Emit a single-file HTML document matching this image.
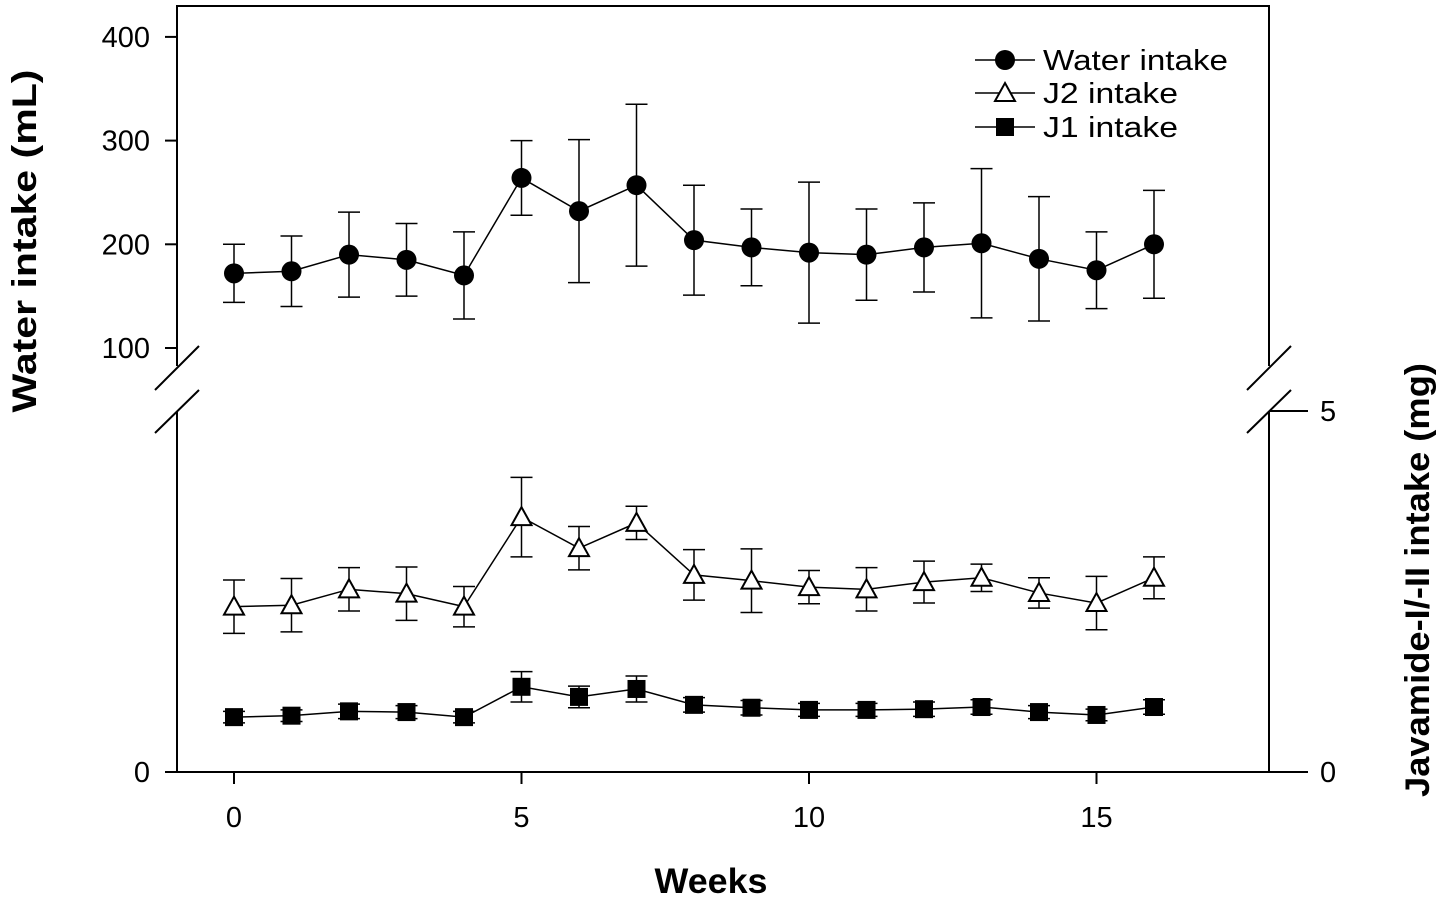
<!DOCTYPE html>
<html><head><meta charset="utf-8"><style>
body{margin:0;background:#fff}
svg{display:block;font-family:"Liberation Sans",Arial,sans-serif}
</style></head><body>
<svg id="c" width="1441" height="900" viewBox="0 0 1441 900">
<g id="g"></g>
</svg>
<script>
const weeks=[0,1,2,3,4,5,6,7,8,9,10,11,12,13,14,15,16];
const water=[172,174,190,185,170,264,232,257,204,197,192,190,197,201,186,175,200];
const waterErr=[28,34,41,35,42,36,69,78,53,37,68,44,43,72,60,37,52];
const j2=[2.29,2.31,2.53,2.47,2.29,3.53,3.10,3.45,2.73,2.65,2.56,2.53,2.63,2.69,2.48,2.34,2.69];
const j2Err=[0.37,0.37,0.30,0.37,0.28,0.55,0.30,0.23,0.35,0.44,0.23,0.30,0.29,0.19,0.21,0.37,0.29];
const j1=[0.76,0.78,0.84,0.83,0.76,1.18,1.04,1.15,0.93,0.89,0.86,0.86,0.87,0.90,0.83,0.79,0.90];
const j1Err=[0.08,0.08,0.10,0.09,0.08,0.21,0.15,0.18,0.10,0.10,0.09,0.09,0.10,0.10,0.09,0.08,0.10];
const xTicks=[0,5,10,15];
const yTopTicks=[100,200,300,400];
const yRightTicks=[0,5];

const NS="http://www.w3.org/2000/svg";
const g=document.getElementById('g');
const X=v=>234+v*57.5;
const YW=v=>348-(v-100)*1.037;
const YJ=v=>772-v*72.2;
function el(t,a,p){const e=document.createElementNS(NS,t);for(const k in a)e.setAttribute(k,a[k]);(p||g).appendChild(e);return e;}
const S={stroke:'#000','stroke-width':2,fill:'none'};
let e;
e=el('line',{x1:177,y1:6,x2:177,y2:366,...S});
e=el('line',{x1:177,y1:411,x2:177,y2:772,...S});
e=el('line',{x1:1269,y1:6,x2:1269,y2:366,...S});
e=el('line',{x1:1269,y1:411,x2:1269,y2:772,...S});
e=el('line',{x1:177,y1:772,x2:1269,y2:772,...S});
e=el('line',{x1:176,y1:6,x2:1270,y2:6,...S});
[[155,390,199,346],[155,433,199,390],[1247,390,1291,346],[1247,433,1291,390]].forEach(b=>{
 e=el('line',{x1:b[0],y1:b[1],x2:b[2],y2:b[3],...S});});
xTicks.forEach(t=>{
 e=el('line',{x1:X(t),y1:772,x2:X(t),y2:784,...S});
 e=el('text',{x:X(t),y:827,'font-size':29,'text-anchor':'middle'});e.textContent=t;});
yTopTicks.forEach(t=>{
 e=el('line',{x1:165,y1:YW(t),x2:177,y2:YW(t),...S});
 e=el('text',{x:150,y:YW(t)+10,'font-size':29,'text-anchor':'end'});e.textContent=t;});
e=el('line',{x1:165,y1:772,x2:177,y2:772,...S});
e=el('text',{x:150,y:782,'font-size':29,'text-anchor':'end'});e.textContent='0';
yRightTicks.forEach(t=>{
 e=el('line',{x1:1269,y1:YJ(t),x2:1308,y2:YJ(t),...S});
 e=el('text',{x:1320,y:YJ(t)+10,'font-size':29,'text-anchor':'start'});e.textContent=t;});
e=el('text',{x:0,y:0,'font-size':34,'font-weight':'bold','text-anchor':'middle',textLength:343,lengthAdjust:'spacingAndGlyphs',transform:'translate(36,241) rotate(-90)'});e.textContent='Water intake (mL)';
e=el('text',{x:0,y:0,'font-size':34,'font-weight':'bold','text-anchor':'middle',textLength:434,lengthAdjust:'spacingAndGlyphs',transform:'translate(1429,580) rotate(-90)'});e.textContent='Javamide-I/-II intake (mg)';
e=el('text',{x:711,y:893,'font-size':35,'font-weight':'bold','text-anchor':'middle',textLength:113,lengthAdjust:'spacingAndGlyphs'});e.textContent='Weeks';
function marker(type,x,y,name){
 let m;
 if(type==='circle')m=el('circle',{cx:x,cy:y,r:10,fill:'#000'});
 else if(type==='square')m=el('rect',{x:x-9,y:y-9,width:18,height:18,fill:'#000'});
 else m=el('polygon',{points:`${x},${y-10} ${x+10},${y+8} ${x-10},${y+8}`,fill:'#fff',stroke:'#000','stroke-width':2});
 
 
}
function series(vals,errs,Y,type,name){
 const pts=weeks.map((w,i)=>X(w)+','+Y(vals[i])).join(' ');
 let p=el('polyline',{points:pts,...S,'stroke-width':1.5});
 
 
 weeks.forEach((w,i)=>{
  const x=X(w),y1=Y(vals[i]+errs[i]),y2=Y(vals[i]-errs[i]);
  let eb=el('path',{d:`M${x},${y1}V${y2}M${x-11},${y1}H${x+11}M${x-11},${y2}H${x+11}`,...S,'stroke-width':1.5});
  
  
  marker(type,x,Y(vals[i]),name+'-point');
 });
}
series(water,waterErr,YW,'circle','water-intake');
series(j2,j2Err,YJ,'tri','j2-intake');
series(j1,j1Err,YJ,'square','j1-intake');
const leg=[['circle','Water intake',60,185],['tri','J2 intake',93,135],['square','J1 intake',127,135]];
leg.forEach(l=>{
 let ln=el('line',{x1:975,y1:l[2],x2:1035,y2:l[2],...S,'stroke-width':1.5});
 
 
 marker(l[0],1005,l[2],'legend-marker');
 let t=el('text',{x:1043,y:l[2]+10,'font-size':29,textLength:l[3],lengthAdjust:'spacingAndGlyphs'});t.textContent=l[1];
 
 
});
</script>
</body></html>
